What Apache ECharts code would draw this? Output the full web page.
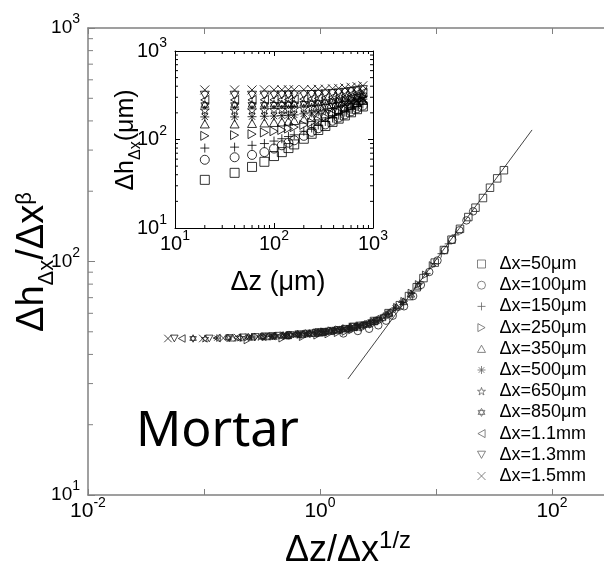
<!DOCTYPE html>
<html><head><meta charset="utf-8">
<script src="https://cdn.jsdelivr.net/npm/echarts@6/dist/echarts.min.js"></script>
<style>html,body{margin:0;padding:0;background:#fff}#c{width:604px;height:573px}</style>
</head><body><div id="c"></div>
<script>
// ---------- DATA ----------
const seriesNames = ['Δx=50μm','Δx=100μm','Δx=150μm','Δx=250μm','Δx=350μm','Δx=500μm','Δx=650μm','Δx=850μm','Δx=1.1mm','Δx=1.3mm','Δx=1.5mm'];

// main plot: x = Δz/Δx^(1/z), y = Δh/Δx^β
const main50X   = [0.975,1.95,2.92,3.90,4.88,5.85,6.82,7.80,9.75,11.7,13.6,16.1,19.0,21.9,25.4,29.2,33.7,38.5];
const main50Y   = [49.7,52.5,55.6,60.1,65.0,71.1,77.6,84.9,98.9,112,124,138,155,170,187,207,227,246];
const main100X  = [0.530,1.06,1.59,2.12,2.65,3.18,3.71,4.24,5.30,6.35,7.41,8.75,10.3,11.9,13.8,15.9,18.3,20.9];
const main100Y  = [48.3,49.8,49.2,50.4,51.5,53.3,55.8,58.6,64.3,71.1,79.4,90.2,101,112,124,136,150,164];
const main150X  = [0.371,0.741,1.11,1.48,1.85,2.22,2.59,2.96,3.71,4.45,5.19,6.12,7.23,8.34,9.64,11.1,12.8,14.7];
const main150Y  = [47.8,49.1,50.1,51.1,52.1,53.3,54.5,55.8,59.3,63.2,67.0,72.9,80.7,88.9,97.9,108,119,130];
const main250X  = [0.237,0.473,0.710,0.946,1.18,1.42,1.66,1.89,2.37,2.84,3.31,3.91,4.61,5.32,6.15,7.10,8.17,9.35];
const main250Y  = [46.1,46.9,47.6,48.3,48.9,49.5,50.1,50.9,52.2,53.8,55.7,58.6,63.7,67.6,73.3,79.8,87.7,96.2];
const main350X  = [0.176,0.352,0.527,0.703,0.879,1.05,1.23,1.41,1.76,2.11,2.46,2.90,3.43,3.95,4.57,5.27,6.07,6.95];
const main350Y  = [47.2,47.8,48.3,48.9,49.4,49.9,50.4,50.9,51.6,52.6,54.0,55.6,57.7,60.4,64.0,67.6,72.8,78.7];
const main500X  = [0.129,0.257,0.385,0.514,0.643,0.771,0.900,1.03,1.29,1.54,1.80,2.12,2.51,2.89,3.34,3.85,4.44,5.08];
const main500Y  = [47.0,47.5,47.9,48.2,48.6,49.0,49.4,49.9,50.6,51.2,52.0,53.0,54.1,55.5,57.3,60.0,63.2,66.7];
const main650X  = [0.102,0.204,0.306,0.408,0.511,0.612,0.714,0.817,1.02,1.22,1.43,1.69,1.99,2.30,2.65,3.06,3.52,4.04];
const main650Y  = [46.8,47.3,47.6,48.0,48.3,48.8,49.0,49.3,49.8,50.4,50.9,51.6,52.6,53.5,54.5,56.1,58.3,60.8];
const main850X  = [0.0805,0.161,0.242,0.322,0.403,0.483,0.564,0.644,0.805,0.966,1.13,1.33,1.57,1.81,2.09,2.42,2.78,3.18];
const main850Y  = [46.8,47.1,47.4,47.6,48.0,48.2,48.4,48.8,49.2,49.7,50.1,50.7,51.3,52.0,52.8,53.8,55.1,56.6];
const main1100X = [0.0643,0.129,0.193,0.257,0.321,0.385,0.450,0.514,0.643,0.771,0.900,1.06,1.25,1.45,1.67,1.93,2.22,2.54];
const main1100Y = [46.8,47.0,47.2,47.5,47.6,47.9,48.1,48.3,48.6,49.0,49.4,50.0,50.6,51.1,51.6,52.4,53.3,54.2];
const main1300X = [0.0555,0.111,0.166,0.222,0.277,0.333,0.388,0.444,0.555,0.665,0.776,0.916,1.08,1.25,1.44,1.66,1.91,2.19];
const main1300Y = [46.8,46.8,47.0,47.3,47.5,47.8,47.9,48.1,48.4,48.8,49.1,49.5,50.0,50.5,50.9,51.5,52.4,53.2];
const main1500X = [0.0489,0.0977,0.147,0.195,0.244,0.293,0.342,0.391,0.489,0.586,0.684,0.807,0.953,1.10,1.27,1.47,1.69,1.93];
const main1500Y = [46.8,46.8,47.0,47.2,47.4,47.6,47.8,47.9,48.3,48.6,48.9,49.3,49.8,50.2,50.7,51.2,51.9,52.7];

// fitted power-law line (end points)
const fitLineX = [1.74, 67.3];
const fitLineY = [31.4, 366];

// inset: Δh (μm) vs Δz (μm)
const insetDz    = [20,40,60,80,100,120,140,160,200,240,280,330,390,450,520,600,690,790];
const inset50    = [35,42,49,56,65,72,80,88,102,116,128,142,158,172,187,203,220,236];
const inset100   = [59,63,67,72,79,86,92,98,110,122,134,148,163,177,192,208,225,242];
const inset150   = [80,82,86,90,96,102,108,113,124,135,146,160,175,189,204,219,236,252];
const inset250   = [110,112,115,120,124,128,133,138,146,156,166,178,192,205,219,234,250,266];
const inset350   = [150,150,152,154,156,158,161,164,170,177,185,195,207,219,232,246,261,277];
const inset500   = [180,180,181,183,184,186,188,190,195,200,206,214,224,234,245,257,271,286];
const inset650   = [215,215,216,217,218,219,221,223,226,230,234,240,248,256,265,276,288,301];
const inset850   = [245,245,246,246,247,248,249,250,253,256,259,264,270,277,285,294,305,316];
const inset1100  = [280,280,280,281,281,282,283,284,286,288,291,295,300,306,313,321,330,340];
const inset1300  = [316,316,316,317,317,318,318,319,320,322,324,327,331,336,341,348,356,365];
const inset1500  = [363,363,363,364,364,364,365,365,366,367,369,371,374,378,383,389,396,405];

const mainXLabelExps = [-2, 0, 2];
const mainYLabelExps = [1, 2, 3];
const insetLabelExps = [1, 2, 3];
const minorTickValues = [20,30,40,50,60,70,80,90,200,300,400,500,600,700,800,900];

// ---------- SETUP ----------
const mainX = [main50X,main100X,main150X,main250X,main350X,main500X,main650X,main850X,main1100X,main1300X,main1500X];
const mainY = [main50Y,main100Y,main150Y,main250Y,main350Y,main500Y,main650Y,main850Y,main1100Y,main1300Y,main1500Y];
const insetH = [inset50,inset100,inset150,inset250,inset350,inset500,inset650,inset850,inset1100,inset1300,inset1500];

const symbols = [
  'path://M0,0L10,0L10,10L0,10Z',
  'circle',
  'path://M5,0L5,10M0,5L10,5',
  'path://M0,0L9,5L0,10Z',
  'path://M5,0L10,9L0,9Z',
  'path://M5,0L5,10M0,5L10,5M1.5,1.5L8.5,8.5M8.5,1.5L1.5,8.5',
  'path://M5,0L6.12,3.46L9.76,3.45L6.81,5.59L7.94,9.05L5,6.9L2.06,9.05L3.19,5.59L0.24,3.45L3.88,3.46Z',
  'path://M5,0L9.33,7.5L0.67,7.5ZM5,10L0.67,2.5L9.33,2.5Z',
  'path://M9,0L0,5L9,10Z',
  'path://M0,0L10,0L5,9Z',
  'path://M0,0L10,10M10,0L0,10'
];

const FONT = '"Liberation Sans", Arial, sans-serif';
function supRich(size, supSize, shift) {
  return {
    b: {fontSize: size, fontFamily: FONT, color: '#000', lineHeight: size, verticalAlign: 'bottom'},
    e: {fontSize: supSize, fontFamily: FONT, color: '#000', lineHeight: supSize, padding: [0,0,shift,0], verticalAlign: 'bottom'}
  };
}
function powLabel(exps) {
  return function (v) {
    const e = Math.round(Math.log10(v));
    return exps.indexOf(e) >= 0 ? '{b|10}{e|' + e + '}' : '';
  };
}

function minorTicks(xi, yi, side, len, color) {
  return {
    type: 'custom', xAxisIndex: xi, yAxisIndex: yi, silent: true, clip: false, z: 5,
    data: minorTickValues.map(v => [v, v]),
    renderItem: function (params, api) {
      const v = api.value(0);
      const p = api.coord([v, v]);
      const cs = params.coordSys;
      let s;
      if (side === 'left') s = {x1: cs.x, y1: p[1], x2: cs.x + len, y2: p[1]};
      else if (side === 'right') s = {x1: cs.x + cs.width, y1: p[1], x2: cs.x + cs.width - len, y2: p[1]};
      else if (side === 'top') s = {x1: p[0], y1: cs.y, x2: p[0], y2: cs.y + len};
      else s = {x1: p[0], y1: cs.y + cs.height, x2: p[0], y2: cs.y + cs.height - len};
      return {type: 'line', shape: s, style: {stroke: color, lineWidth: 1}};
    }
  };
}

const series = [];
for (let i = 0; i < seriesNames.length; i++) {
  series.push({
    type: 'scatter', name: seriesNames[i], xAxisIndex: 0, yAxisIndex: 0,
    data: mainX[i].map((x, k) => [x, mainY[i][k]]),
    symbol: symbols[i], symbolSize: 7.5, symbolKeepAspect: true,
    itemStyle: {color: 'rgba(0,0,0,0)', borderColor: '#1a1a1a', borderWidth: 1},
    z: 3
  });
}
series.push({
  type: 'line', name: 'fit', xAxisIndex: 0, yAxisIndex: 0,
  data: fitLineX.map((x, k) => [x, fitLineY[k]]),
  symbol: 'none', lineStyle: {color: '#444', width: 1}, z: 2
});
for (let i = 0; i < seriesNames.length; i++) {
  series.push({
    type: 'scatter', name: seriesNames[i], xAxisIndex: 2, yAxisIndex: 1,
    data: insetDz.map((z, k) => [z, insetH[i][k]]),
    symbol: symbols[i], symbolSize: 9, symbolKeepAspect: true,
    itemStyle: {color: 'rgba(0,0,0,0)', borderColor: '#000', borderWidth: 1},
    z: 6
  });
}
series.push(minorTicks(0, 0, 'left', 5, '#808080'));
series.push(minorTicks(2, 1, 'left', 3, '#000'));
series.push(minorTicks(2, 1, 'right', 3, '#000'));
series.push(minorTicks(2, 1, 'top', 3, '#000'));
series.push(minorTicks(2, 1, 'bottom', 3, '#000'));

const grayAxis = {lineStyle: {color: '#808080', width: 1.5}};
const blackAxis = {lineStyle: {color: '#000', width: 1}};

const option = {
  animation: false,
  backgroundColor: '#fff',
  grid: [
    {left: 88, width: 580, top: 28, height: 467, containLabel: false, outerBoundsMode: 'none'},
    {left: 175, top: 51, width: 198, height: 177, show: true, backgroundColor: '#fff', borderWidth: 0, z: 4, outerBoundsMode: 'none'}
  ],
  xAxis: [
    {type: 'log', gridIndex: 0, min: 0.01, max: 1000, position: 'bottom',
     axisLine: grayAxis, axisTick: {inside: true, length: 6, lineStyle: {color: '#808080'}},
     axisLabel: {formatter: powLabel(mainXLabelExps), margin: 6, rich: supRich(21, 14, 12)},
     splitLine: {show: false}},
    {type: 'log', gridIndex: 0, min: 0.01, max: 1000, position: 'top',
     axisLine: grayAxis, axisTick: {inside: true, length: 6, lineStyle: {color: '#808080'}},
     axisLabel: {show: false}, splitLine: {show: false}},
    {type: 'log', gridIndex: 1, min: 10, max: 1000, position: 'bottom', z: 5,
     axisLine: blackAxis, axisTick: {inside: true, length: 5, lineStyle: {color: '#000'}},
     axisLabel: {formatter: powLabel(insetLabelExps), margin: 6, rich: supRich(20, 14, 11)},
     splitLine: {show: false}},
    {type: 'log', gridIndex: 1, min: 10, max: 1000, position: 'top', z: 5,
     axisLine: blackAxis, axisTick: {inside: true, length: 5, lineStyle: {color: '#000'}},
     axisLabel: {show: false}, splitLine: {show: false}}
  ],
  yAxis: [
    {type: 'log', gridIndex: 0, min: 10, max: 1000, position: 'left',
     axisLine: grayAxis, axisTick: {inside: true, length: 7, lineStyle: {color: '#808080'}},
     axisLabel: {formatter: powLabel(mainYLabelExps), margin: 8, rich: supRich(19, 14, 11)},
     splitLine: {show: false}},
    {type: 'log', gridIndex: 1, min: 10, max: 1000, position: 'left', z: 5,
     axisLine: blackAxis, axisTick: {inside: true, length: 5, lineStyle: {color: '#000'}},
     axisLabel: {formatter: powLabel(insetLabelExps), margin: 8, rich: supRich(20, 14, 11)},
     splitLine: {show: false}},
    {type: 'log', gridIndex: 1, min: 10, max: 1000, position: 'right', z: 5,
     axisLine: blackAxis, axisTick: {inside: true, length: 5, lineStyle: {color: '#000'}},
     axisLabel: {show: false}, splitLine: {show: false}}
  ],
  legend: {
    orient: 'vertical', left: 472, top: 249, itemWidth: 8, itemHeight: 8, itemGap: 1.2,
    selectedMode: false,
    data: seriesNames.map((n, i) => ({name: n, icon: symbols[i]})),
    textStyle: {fontFamily: FONT, fontSize: 18, color: '#000', lineHeight: 20, padding: [0, 0, 0, 9]},
    itemStyle: {color: 'rgba(0,0,0,0)', borderColor: '#666', borderWidth: 1}
  },
  graphic: [
    {type: 'text', x: 33, y: 262, rotation: Math.PI / 2, z: 10,
     style: {text: '{a|Δh}{s|Δx}{a|/Δx}{p|β}', align: 'center', verticalAlign: 'middle',
       rich: {
         a: {fontSize: 38, fontFamily: FONT, color: '#000', lineHeight: 38, verticalAlign: 'top'},
         s: {fontSize: 22, fontFamily: FONT, color: '#000', lineHeight: 22, padding: [22, 0, 0, 0], verticalAlign: 'top'},
         p: {fontSize: 22, fontFamily: FONT, color: '#000', lineHeight: 22, verticalAlign: 'top'}
       }}},
    {type: 'text', x: 348, y: 550, z: 10,
     style: {text: '{a|Δz/Δx}{p|1/z}', align: 'center', verticalAlign: 'middle',
       rich: {
         a: {fontSize: 36, fontFamily: FONT, color: '#000', lineHeight: 38, verticalAlign: 'bottom'},
         p: {fontSize: 24, fontFamily: FONT, color: '#000', lineHeight: 24, padding: [0, 0, 16, 0], verticalAlign: 'bottom'}
       }}},
    {type: 'text', x: 136, y: 432, z: 10,
     style: {text: 'Mortar', fontSize: 50, fontFamily: '"Comic Sans MS", "Noto Sans", sans-serif', fill: '#000', verticalAlign: 'middle', align: 'left'}},
    {type: 'text', x: 278, y: 283, z: 10,
     style: {text: 'Δz (μm)', fontSize: 27, fontFamily: FONT, fill: '#000', align: 'center', verticalAlign: 'middle'}},
    {type: 'text', x: 126, y: 140, rotation: Math.PI / 2, z: 10,
     style: {text: '{a|Δh}{s|Δx}{a|(μm)}', align: 'center', verticalAlign: 'middle',
       rich: {
         a: {fontSize: 25, fontFamily: FONT, color: '#000', lineHeight: 25, verticalAlign: 'top'},
         s: {fontSize: 16, fontFamily: FONT, color: '#000', lineHeight: 16, padding: [14, 0, 0, 0], verticalAlign: 'top'}
       }}}
  ],
  series: series
};

const chart = echarts.init(document.getElementById('c'), null, {renderer: 'canvas'});
chart.setOption(option);
</script>
</body></html>
